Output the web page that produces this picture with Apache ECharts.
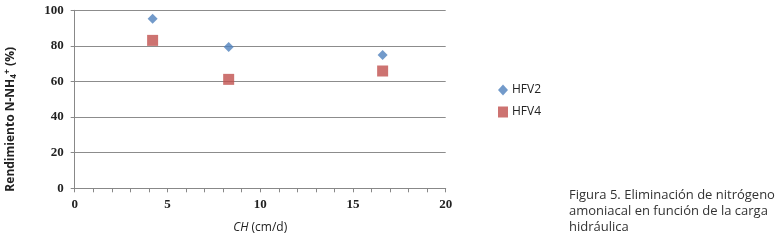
<!DOCTYPE html>
<html><head><meta charset="utf-8">
<script src="https://cdn.jsdelivr.net/npm/echarts@6/dist/echarts.min.js"></script>
<style>html,body{margin:0;padding:0;background:#fff}#c{width:780px;height:242px}</style>
</head><body><div id="c"></div>
<script>
const chX = [4.2, 8.3, 16.6];
const hfv2 = [95.3, 79.4, 74.9];
const hfv4 = [83.1, 61.2, 65.9];
const seriesNames = ['HFV2', 'HFV4'];
const captionLines = ['Figura 5. Eliminación de nitrógeno', 'amoniacal en función de la carga', 'hidráulica'];

const chart = echarts.init(document.getElementById('c'), null, {renderer: 'canvas'});
const tickFont = {fontFamily: 'Liberation Serif', fontWeight: 'bold', fontSize: 13, color: '#222'};
chart.setOption({
  animation: false,
  grid: {left: 74.7, top: 10.3, width: 371, height: 178},
  xAxis: {
    type: 'value', min: 0, max: 20, interval: 5,
    axisLine: {show: true, lineStyle: {color: '#888'}},
    axisTick: {show: true, inside: false, length: 4, lineStyle: {color: '#888'}},
    minorTick: {show: true, splitNumber: 5, length: 4, lineStyle: {color: '#888'}},
    splitLine: {show: false},
    axisLabel: Object.assign({margin: 10}, tickFont),
    name: '{i|CH} (cm/d)', nameLocation: 'middle', nameGap: 33,
    nameTextStyle: {fontFamily: 'Open Sans', fontSize: 12, color: '#222',
      rich: {i: {fontFamily: 'Open Sans', fontSize: 12, fontStyle: 'italic', color: '#222'}}}
  },
  yAxis: {
    type: 'value', min: 0, max: 100, interval: 20,
    axisLine: {show: true, lineStyle: {color: '#888'}},
    axisTick: {show: true, length: 4, lineStyle: {color: '#888'}},
    splitLine: {show: true, lineStyle: {color: '#8c8c8c', width: 1}},
    axisLabel: Object.assign({margin: 11}, tickFont),
    name: 'Rendimiento N-NH{sub|4}{sup|+} (%)', nameLocation: 'middle', nameGap: 57,
    nameTextStyle: {fontFamily: 'Open Sans', fontWeight: 'bold', fontSize: 12, color: '#222',
      padding: [0, 40, 0, 0],
      rich: {
        sub: {fontFamily: 'Open Sans', fontWeight: 'bold', fontSize: 8, verticalAlign: 'bottom', padding: [6,0,0,0], color: '#222'},
        sup: {fontFamily: 'Open Sans', fontWeight: 'bold', fontSize: 9, verticalAlign: 'top', padding: [0,0,6,0], color: '#222'}
      }}
  },
  legend: {
    orient: 'vertical', left: 493, top: 79, itemGap: 10, itemWidth: 10, itemHeight: 11,
    textStyle: {fontFamily: 'Open Sans', fontSize: 12, color: '#222', padding: [0,0,0,-1]},
    data: [{name: seriesNames[0], icon: 'diamond'}, {name: seriesNames[1], icon: 'rect'}]
  },
  series: [
    {name: seriesNames[0], type: 'scatter', symbol: 'diamond', symbolSize: 10,
     itemStyle: {color: '#4F81BD'}, data: chX.map((x, i) => [x, hfv2[i]])},
    {name: seriesNames[1], type: 'scatter', symbol: 'rect', symbolSize: 11,
     itemStyle: {color: '#C0504D'}, data: chX.map((x, i) => [x, hfv4[i]])}
  ],
  graphic: [{
    type: 'text', left: 569, top: 187,
    style: {text: captionLines.join('\n'), fontFamily: 'Open Sans', fontSize: 13, lineHeight: 16, fill: '#333'}
  }]
});
</script></body></html>
